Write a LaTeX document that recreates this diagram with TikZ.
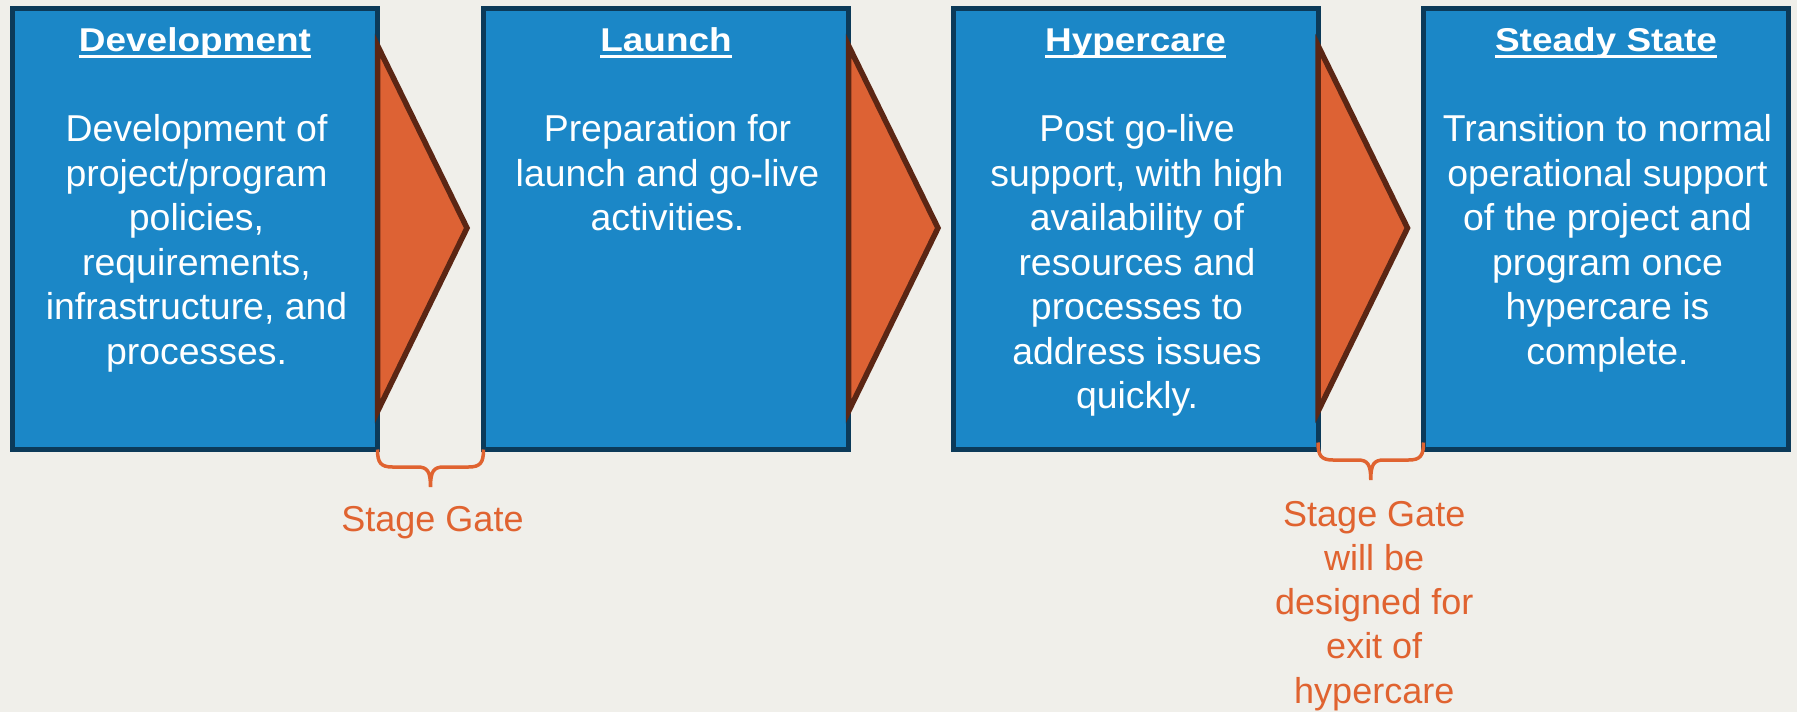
\documentclass[tikz,border=0pt]{standalone}
\usepackage{fontspec}
\setmainfont{Liberation Sans}
\newfontfamily\titlefont{Liberation Sans}[FakeStretch=1.12]
\usetikzlibrary{calc}
\definecolor{bgcol}{RGB}{240,239,234}
\definecolor{boxfill}{RGB}{27,135,199}
\definecolor{boxline}{RGB}{12,58,89}
\definecolor{arrowfill}{RGB}{221,98,52}
\definecolor{arrowline}{RGB}{91,38,20}
\definecolor{gateorange}{RGB}{224,99,48}
\newcommand\myul[1]{\setbox0\hbox{#1}\rlap{\rule[-6.7pt]{\wd0}{2.7pt}}\box0}
\newcommand\mylines[1]{\vtop{\lineskiplimit=-1000pt\halign{\hfil##\hfil\cr#1\crcr}}}
\newcommand\gatebrace[3]{%
  \draw[bracestyle] let \p1=(#1), \p2=(#2), \n1={(\x1+\x2)/2}, \n2={\y1+#3} in
    (\x1,\n2) .. controls (\x1,\n2-13) and (\x1+3,\n2-17.5) .. (\x1+15,\n2-17.5)
    -- (\n1-13,\n2-17.5) .. controls (\n1-3,\n2-17.5) and (\n1,\n2-22) .. (\n1,\n2-37.5)
    .. controls (\n1,\n2-22) and (\n1+3,\n2-17.5) .. (\n1+13,\n2-17.5)
    -- (\x2-15,\n2-17.5) .. controls (\x2-3,\n2-17.5) and (\x2,\n2-13) .. (\x2,\n2);}
\tikzset{
  stagebox/.style={draw=boxline, fill=boxfill, line width=5pt, minimum width=365pt,
    minimum height=441pt, inner sep=0pt, outer sep=0pt},
  gatearrow/.style={draw=arrowline, fill=arrowfill, line width=5.5pt, line join=miter},
  bracestyle/.style={draw=gateorange, line width=3.5pt},
  boxtitle/.style={font=\titlefont\bfseries\fontsize{33}{40}\selectfont, text=white,
    anchor=base, inner sep=0pt},
  boxbody/.style={font=\fontsize{37.4}{44.5}\selectfont, text=white, anchor=base, inner sep=0pt},
  gatelabel/.style={font=\fontsize{36}{44.3}\selectfont, text=gateorange, anchor=base, inner sep=0pt}
}
\begin{document}
\begin{tikzpicture}[x=1pt,y=-1pt]
\useasboundingbox (0,0) rectangle (1797,712);
\fill[bgcol] (0,0) rectangle (1797,712);
% boxes
\node[stagebox] (b1) at (195,229) {};
\node[stagebox] (b2) at (666,229) {};
\node[stagebox] (b3) at (1135.5,229) {};
\node[stagebox] (b4) at (1606,229) {};
% arrows
\foreach \b in {b1,b2,b3}{
  \draw[gatearrow] ($(\b.north east)+(0,37)$) -- ($(\b.east)+(89.5,-1)$)
    -- ($(\b.south east)+(0,-38)$) -- cycle;
}
% titles
\node[boxtitle] (t1) at ($(b1.north)+(0,42.5)$) {\myul{Development}};
\node[boxtitle] (t2) at ($(b2.north)+(0,42.5)$) {\myul{Launch}};
\node[boxtitle] (t3) at ($(b3.north)+(0,42.5)$) {\myul{Hypercare}};
\node[boxtitle] (t4) at ($(b4.north)+(0,42.5)$) {\myul{Steady State}};
% bodies
\node[boxbody] (d1) at ($(b1.north)+(1.5,133.2)$) {\mylines{Development of\cr project/program\cr policies,\cr requirements,\cr infrastructure, and\cr processes.}};
\node[boxbody] (d2) at ($(b2.north)+(1.5,133.2)$) {\mylines{Preparation for\cr launch and go-live\cr activities.}};
\node[boxbody] (d3) at ($(b3.north)+(1.5,133.2)$) {\mylines{Post go-live\cr support, with high\cr availability of\cr resources and\cr processes to\cr address issues\cr quickly.}};
\node[boxbody] (d4) at ($(b4.north)+(1.5,133.2)$) {\mylines{Transition to normal\cr operational support\cr of the project and\cr program once\cr hypercare is\cr complete.}};
% braces
\gatebrace{b1.south east}{b2.south west}{0}
\gatebrace{b3.south east}{b4.south west}{7}
% labels
\node[gatelabel] (g1) at ($(b1.south east)!0.5!(b2.south west)+(2,82.2)$) {Stage Gate};
\node[gatelabel] (g2) at ($(b3.south east)!0.5!(b4.south west)+(3.5,76.5)$) {\mylines{Stage Gate\cr will be\cr designed for\cr exit of\cr hypercare}};
\end{tikzpicture}
\end{document}
